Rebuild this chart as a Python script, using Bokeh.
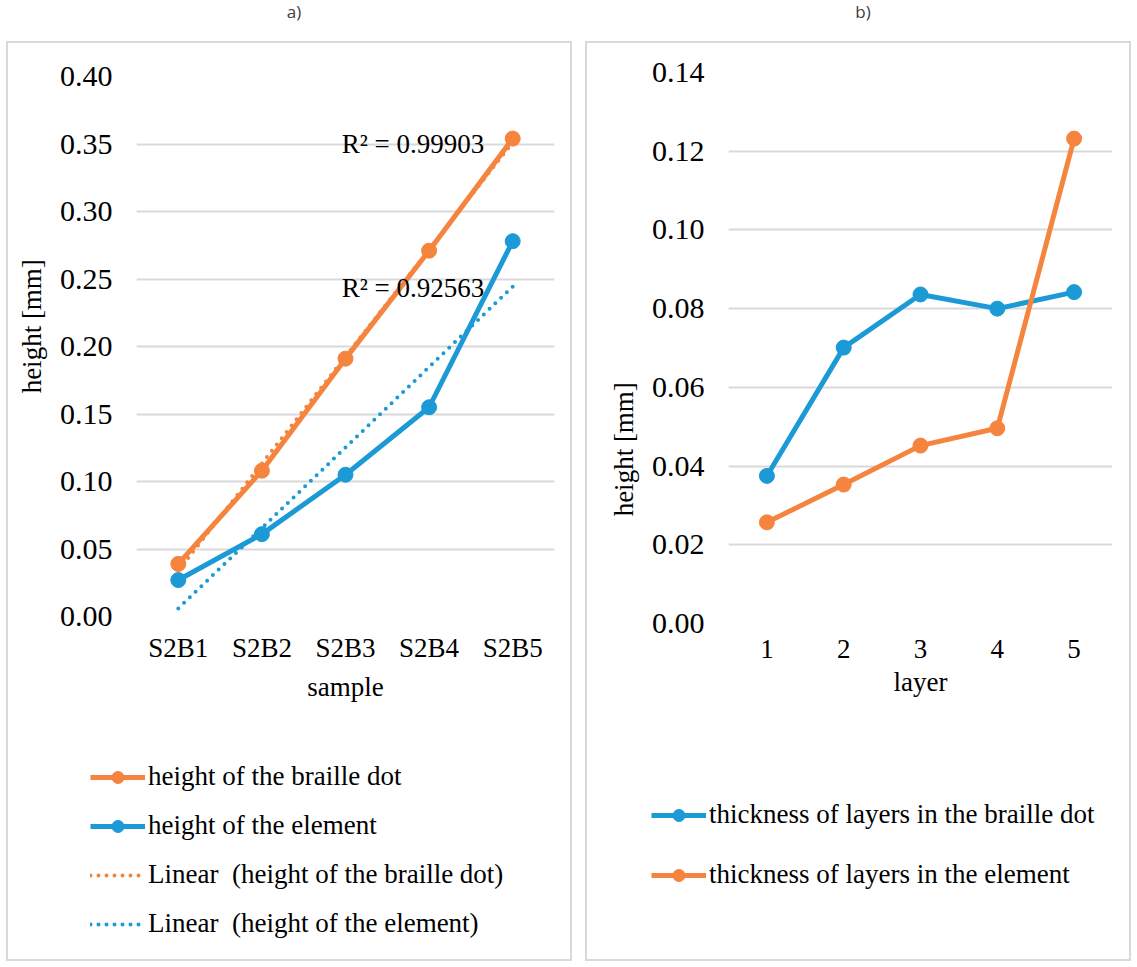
import numpy as np
from bokeh.plotting import figure
from bokeh.models import Range1d, FixedTicker, Legend, Div, Label, Spacer
from bokeh.layouts import row, column
from bokeh.embed import file_html
from bokeh.resources import INLINE

# ---------------- data ----------------
samples = ["S2B1", "S2B2", "S2B3", "S2B4", "S2B5"]
braille_dot_height = [0.039, 0.108, 0.191, 0.271, 0.354]
element_height = [0.027, 0.061, 0.105, 0.155, 0.278]
r2_dot_text = "R² = 0.99903"
r2_element_text = "R² = 0.92563"

layers = [1, 2, 3, 4, 5]
dot_layer_thickness = [0.0375, 0.0701, 0.0836, 0.0800, 0.0842]
element_layer_thickness = [0.0257, 0.0353, 0.0452, 0.0496, 0.1232]

a_yticks = [0.0, 0.05, 0.10, 0.15, 0.20, 0.25, 0.30, 0.35, 0.40]
b_yticks = [0.0, 0.02, 0.04, 0.06, 0.08, 0.10, 0.12, 0.14]

ORANGE = "#F5843F"
BLUE = "#1C9AD6"
GRID = "#D9D9D9"
SERIF = "Liberation Serif"
FS_Y = "30px"
FS_X = "27px"
FS_T = "27px"
FS_L = "27px"
NB = "\u00a0"
OUTLINE = {"outline": "2px solid #D9D9D9", "outline-offset": "-2px"}
PLOT_H = 700
LEG_H = 220
MS = 15


def style(p, yticks, fmt):
    p.frame_align = False
    p.xgrid.visible = False
    p.ygrid.grid_line_color = GRID
    p.ygrid.grid_line_width = 2
    p.outline_line_color = None
    p.border_fill_color = None
    p.background_fill_color = "white"
    p.yaxis.ticker = FixedTicker(ticks=yticks)
    p.yaxis.major_label_overrides = {t: fmt % t for t in yticks}
    for ax in (p.xaxis[0], p.yaxis[0]):
        ax.axis_line_color = None
        ax.major_tick_line_color = None
        ax.minor_tick_line_color = None
        ax.major_tick_out = 0
        ax.major_tick_in = 0
        ax.minor_tick_out = 0
        ax.major_label_text_font = SERIF
        ax.major_label_text_color = "black"
        ax.axis_label_text_font = SERIF
        ax.axis_label_text_font_size = FS_T
        ax.axis_label_text_font_style = "normal"
        ax.axis_label_text_color = "black"
    p.xaxis.major_label_text_font_size = FS_X
    p.yaxis.major_label_text_font_size = FS_Y


def title_div(txt, w):
    return Div(text=txt, width=w, height=31,
               styles={"font-family": "Open Sans", "font-size": "17px",
                       "color": "#404040", "text-align": "center",
                       "line-height": "14px"})


def legend_fig(w):
    f = figure(width=w, height=LEG_H, output_backend="svg", toolbar_location=None,
               x_axis_type=None, y_axis_type=None, min_border=0,
               x_range=Range1d(-3, -2), y_range=Range1d(-3, -2))
    f.frame_align = False
    f.grid.visible = False
    f.outline_line_color = None
    f.border_fill_color = None
    f.background_fill_color = None
    return f


def style_legend(leg, spacing):
    leg.label_text_font = SERIF
    leg.label_text_font_size = FS_L
    leg.label_text_color = "black"
    leg.glyph_width = 55
    leg.glyph_height = 30
    leg.label_height = 30
    leg.spacing = spacing
    leg.label_standoff = 3
    leg.padding = 0
    leg.margin = 0
    leg.border_line_color = None
    leg.background_fill_alpha = 0


# ---------------- panel a ----------------
pa = figure(width=566, height=PLOT_H, output_backend="svg", toolbar_location=None,
            x_range=Range1d(0.5, 5.5), y_range=Range1d(0, 0.40),
            min_border_left=130, min_border_right=18, min_border_top=35,
            min_border_bottom=PLOT_H - 35 - 540)
style(pa, a_yticks, "%.2f")
pa.xaxis.ticker = FixedTicker(ticks=[1, 2, 3, 4, 5])
pa.xaxis.major_label_overrides = {i + 1: s for i, s in enumerate(samples)}
pa.xaxis.axis_label = "sample"
pa.yaxis.axis_label = NB * 6 + "height [mm]"
pa.xaxis.major_label_standoff = 16
pa.xaxis.axis_label_standoff = 6
pa.yaxis.major_label_standoff = 24
pa.yaxis.axis_label_standoff = 10

xs = np.arange(1, 6)
pa.line(xs, braille_dot_height, line_color=ORANGE, line_width=5)
pa.scatter(xs, braille_dot_height, size=MS, fill_color=ORANGE, line_color=ORANGE)
pa.line(xs, element_height, line_color=BLUE, line_width=5)
pa.scatter(xs, element_height, size=MS, fill_color=BLUE, line_color=BLUE)

k1, b1 = np.polyfit(xs, braille_dot_height, 1)
k2, b2 = np.polyfit(xs, element_height, 1)
tx = np.array([1.0, 5.0])
pa.line(tx, k1 * tx + b1, line_color=ORANGE, line_width=4, line_dash="0 8", line_cap="round")
pa.line(tx, k2 * tx + b2, line_color=BLUE, line_width=4, line_dash="0 8", line_cap="round")

for txt, yy in ((r2_dot_text, 0.35), (r2_element_text, 0.243)):
    pa.add_layout(Label(x=4.66, y=yy, text=txt, text_font=SERIF, text_font_size=FS_L,
                        text_align="right", text_baseline="middle", text_color="black"))

# legend proxies: same series, drawn outside the legend figure's visible range
la = legend_fig(566)
e1 = la.line(xs, braille_dot_height, line_color=ORANGE, line_width=5)
e1m = la.scatter(xs, braille_dot_height, size=MS, fill_color=ORANGE, line_color=ORANGE)
e2 = la.line(xs, element_height, line_color=BLUE, line_width=5)
e2m = la.scatter(xs, element_height, size=MS, fill_color=BLUE, line_color=BLUE)
e3 = la.line(tx, k1 * tx + b1, line_color=ORANGE, line_width=4, line_dash="0 8", line_cap="round")
e4 = la.line(tx, k2 * tx + b2, line_color=BLUE, line_width=4, line_dash="0 8", line_cap="round")
leg_a = Legend(items=[("height of the braille dot", [e1, e1m]),
                      ("height of the element", [e2, e2m]),
                      ("Linear  (height of the braille dot)", [e3]),
                      ("Linear  (height of the element)", [e4])],
               location=(84, 22), orientation="vertical")
style_legend(leg_a, 18)
la.add_layout(leg_a)

# ---------------- panel b ----------------
pb = figure(width=546, height=PLOT_H, output_backend="svg", toolbar_location=None,
            x_range=Range1d(0.5, 5.5), y_range=Range1d(0, 0.14),
            min_border_left=143, min_border_right=19, min_border_top=31,
            min_border_bottom=PLOT_H - 31 - 551)
style(pb, b_yticks, "%.2f")
pb.xaxis.ticker = FixedTicker(ticks=layers)
pb.xaxis.major_label_overrides = {l: str(l) for l in layers}
pb.xaxis.axis_label = "layer"
pb.yaxis.axis_label = "height [mm]" + NB * 30
pb.xaxis.major_label_standoff = 16
pb.xaxis.axis_label_standoff = 6
pb.yaxis.major_label_standoff = 24
pb.yaxis.axis_label_standoff = 10

pb.line(layers, dot_layer_thickness, line_color=BLUE, line_width=5)
pb.scatter(layers, dot_layer_thickness, size=MS, fill_color=BLUE, line_color=BLUE)
pb.line(layers, element_layer_thickness, line_color=ORANGE, line_width=5)
pb.scatter(layers, element_layer_thickness, size=MS, fill_color=ORANGE, line_color=ORANGE)

lb = legend_fig(546)
f1 = lb.line(layers, dot_layer_thickness, line_color=BLUE, line_width=5)
f1m = lb.scatter(layers, dot_layer_thickness, size=MS, fill_color=BLUE, line_color=BLUE)
f2 = lb.line(layers, element_layer_thickness, line_color=ORANGE, line_width=5)
f2m = lb.scatter(layers, element_layer_thickness, size=MS, fill_color=ORANGE, line_color=ORANGE)
leg_b = Legend(items=[("thickness of layers in the braille dot", [f1, f1m]),
                      ("thickness of layers in the element", [f2, f2m])],
               location=(66, 71), orientation="vertical")
style_legend(leg_b, 29)
lb.add_layout(leg_b)

panel_a = column(title_div("a)", 566), column(pa, la, spacing=0, styles=OUTLINE), spacing=0)
panel_b = column(title_div("b)", 546), column(pb, lb, spacing=0, styles=OUTLINE), spacing=0)
layout = row(Spacer(width=6, height=10), panel_a, Spacer(width=3, height=10), panel_b, spacing=0)

open("out.html", "w").write(file_html(layout, INLINE))
